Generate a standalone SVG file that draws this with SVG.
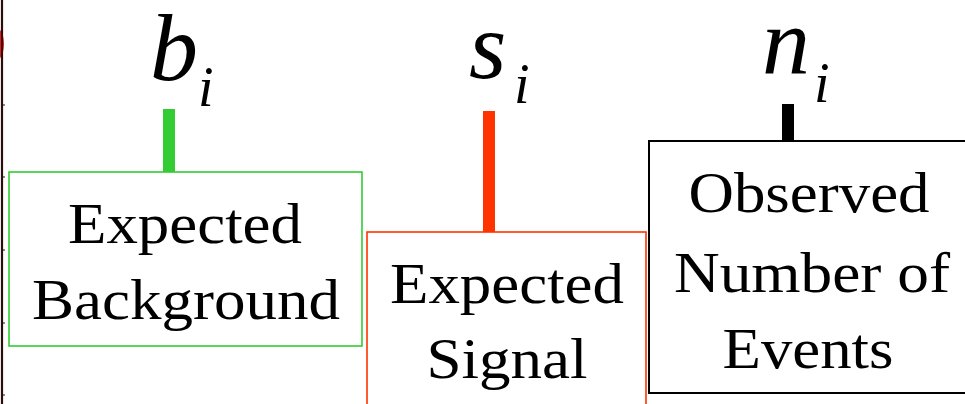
<svg xmlns="http://www.w3.org/2000/svg" width="965" height="404" viewBox="0 0 965 404">
  <defs>
    <style>
      .box { fill: #fff; }
      .lbl { font-family: "Liberation Serif", "Times New Roman", serif; font-size: 56px; fill: #000; text-anchor: middle; }
      .math { font-family: "Liberation Serif", "Times New Roman", serif; font-size: 96px; font-style: italic; fill: #000; }
      .sub { font-family: "Liberation Serif", "Times New Roman", serif; font-size: 56px; font-style: italic; fill: #000; }
    </style>
  </defs>
  <rect x="0" y="0" width="965" height="404" fill="#fff"/>
  <g id="edge">
    <ellipse cx="-8" cy="44" rx="12" ry="19" fill="#ff1a1a"/>
    <line x1="2" y1="0" x2="2" y2="404" stroke="#2a0d0d" stroke-width="2.2"/>
    <g stroke="#2a0d0d" stroke-width="1">
      <line x1="2" y1="105" x2="5" y2="105"/>
      <line x1="2" y1="177" x2="5" y2="177"/>
      <line x1="2" y1="250" x2="5" y2="250"/>
      <line x1="2" y1="323" x2="5" y2="323"/>
      <line x1="2" y1="395" x2="5" y2="395"/>
    </g>
  </g>
  <g id="connectors">
    <rect x="163" y="109" width="12" height="63" fill="#33cc33"/>
    <rect x="483" y="111" width="12" height="121" fill="#ff3300"/>
    <rect x="782" y="104" width="12" height="37" fill="#000"/>
  </g>
  <g id="background">
    <rect class="box" x="9" y="172" width="353" height="174" stroke="#33cc33" stroke-width="1.6"/>
    <text class="lbl" x="185" y="243" textLength="234" lengthAdjust="spacingAndGlyphs">Expected</text>
    <text class="lbl" x="186" y="319" textLength="308" lengthAdjust="spacingAndGlyphs">Background</text>
    <text class="math" x="150" y="80">b</text>
    <text class="sub" x="198" y="106">i</text>
  </g>
  <g id="signal">
    <rect class="box" x="367" y="232" width="279" height="190" stroke="#ff3300" stroke-width="1.6"/>
    <text class="lbl" x="507" y="303" textLength="234" lengthAdjust="spacingAndGlyphs">Expected</text>
    <text class="lbl" x="507" y="378" textLength="161" lengthAdjust="spacingAndGlyphs">Signal</text>
    <text class="math" x="469" y="78">s</text>
    <text class="sub" x="514" y="103">i</text>
  </g>
  <g id="observed">
    <rect class="box" x="649" y="141" width="330" height="252" stroke="#000" stroke-width="2"/>
    <text class="lbl" x="809" y="212" textLength="241" lengthAdjust="spacingAndGlyphs">Observed</text>
    <text class="lbl" x="812" y="292" textLength="276" lengthAdjust="spacingAndGlyphs">Number of</text>
    <text class="lbl" x="808" y="368" textLength="171" lengthAdjust="spacingAndGlyphs">Events</text>
    <text class="math" x="762" y="74">n</text>
    <text class="sub" x="814" y="102">i</text>
  </g>
</svg>
